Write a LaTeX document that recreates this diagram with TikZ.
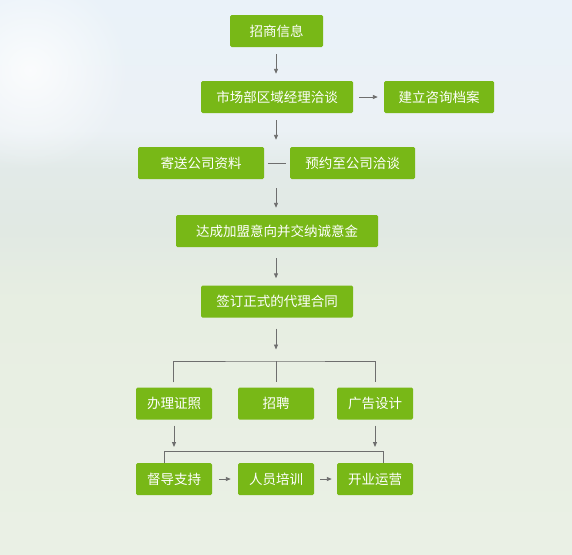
\documentclass[tikz,border=0pt]{standalone}
\usepackage{fontspec}
\newfontfamily\cjk{Noto Sans CJK SC}
\usetikzlibrary{arrows.meta,fadings}
\definecolor{boxgreen}{HTML}{78B817}
\definecolor{linegray}{HTML}{6E6E6E}
\definecolor{bgA}{HTML}{EAF2F9}
\definecolor{bgB}{HTML}{EBF1F5}
\definecolor{bgC}{HTML}{E2EAE8}
\definecolor{bgD}{HTML}{E1E9E3}
\definecolor{bgE}{HTML}{E7EEE2}
\definecolor{bgF}{HTML}{EAF0E5}
\pgfdeclareverticalshading{bgshade}{100bp}{color(0bp)=(bgF); color(25bp)=(bgF); color(47.9bp)=(bgE); color(54.2bp)=(bgD); color(59.7bp)=(bgC); color(63.3bp)=(bgB); color(75bp)=(bgA); color(100bp)=(bgA)}
\tikzfading[name=softglow, inner color=transparent!0, outer color=transparent!100]
\tikzset{
  flowbox/.style={rectangle, rounded corners=1.5pt, fill=boxgreen, text=white,
    minimum height=32pt, inner sep=0pt, font=\cjk\fontsize{13.5pt}{14pt}\selectfont},
  link/.style={draw=linegray, line width=0.9pt},
  arr/.style={link, -{Triangle[width=4pt,length=5pt]}},
}
\begin{document}
\begin{tikzpicture}[x=1pt,y=-1pt]
\useasboundingbox (0,0) rectangle (572,554);
\shade[shading=bgshade] (0,0) rectangle (572,554);
\fill[white, path fading=softglow, opacity=0.8] (30,70) circle (100);

\coordinate (col) at (276,0);

\node[flowbox, minimum width=93pt]  (zs)  at (276.5,31)  {招商信息};
\node[flowbox, minimum width=152pt] (sc)  at (277,97)    {市场部区域经理洽谈};
\node[flowbox, minimum width=110pt] (jl)  at (439,97)    {建立咨询档案};
\node[flowbox, minimum width=126pt] (js)  at (201,163)   {寄送公司资料};
\node[flowbox, minimum width=125pt] (yy)  at (352.5,163) {预约至公司洽谈};
\node[flowbox, minimum width=202pt] (dc)  at (277,231)   {达成加盟意向并交纳诚意金};
\node[flowbox, minimum width=152pt] (qd)  at (277,301.5) {签订正式的代理合同};
\node[flowbox, minimum width=76pt]  (bl)  at (174,403.5) {办理证照};
\node[flowbox, minimum width=76pt]  (zp)  at (276,403.5) {招聘};
\node[flowbox, minimum width=76pt]  (gg)  at (375,403.5) {广告设计};
\node[flowbox, minimum width=76pt]  (dd)  at (174,479)   {督导支持};
\node[flowbox, minimum width=76pt]  (ry)  at (276,479)   {人员培训};
\node[flowbox, minimum width=76pt]  (ky)  at (375,479)   {开业运营};

\coordinate (bar1) at (276,361);
\coordinate (bar2) at (276,451.7);

% main column
\draw[arr, shorten <=7pt, shorten >=7pt] (zs.south -| col) -- (sc.north -| col);
\draw[arr, shorten <=6pt, shorten >=6pt] (sc.east) -- (jl.west);
\draw[arr, shorten <=7pt, shorten >=7pt] (sc.south -| col) -- (js.north -| col);
\draw[link, shorten <=4pt, shorten >=4pt] (js.east) -- (yy.west);
\draw[arr, shorten <=9pt, shorten >=7pt] (js.south -| col) -- (dc.north -| col);
\draw[arr, shorten <=11pt, shorten >=7pt] (dc.south -| col) -- (qd.north -| col);
\draw[arr, shorten <=11pt] (qd.south -| col) -- ([yshift=11.5pt]bar1);

% first branch
\draw[link] ([xshift=-1pt,yshift=5pt]bl.north) |- (bar1) -| ([yshift=5pt]gg.north);
\draw[link] (bar1) -- ([yshift=5pt]zp.north);

% second branch
\draw[arr, shorten <=6pt] (bl.south) -- ([yshift=4.7pt]bl.south |- bar2);
\draw[arr, shorten <=6pt] (gg.south) -- ([yshift=4.7pt]gg.south |- bar2);
\draw[link] ([xshift=-9.5pt]dd.north) |- (bar2) -| ([xshift=8.4pt]ky.north);

% bottom row
\draw[arr, shorten <=7pt, shorten >=7pt] (dd.east) -- (ry.west);
\draw[arr, shorten <=6pt, shorten >=5pt] (ry.east) -- (ky.west);
\end{tikzpicture}
\end{document}
